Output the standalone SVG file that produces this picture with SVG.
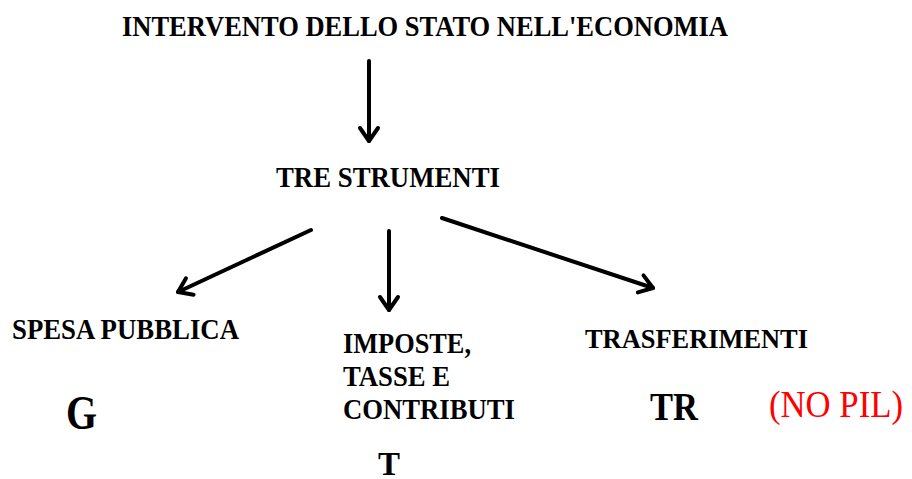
<svg xmlns="http://www.w3.org/2000/svg" width="912" height="479" viewBox="0 0 912 479">
<style>
.t{font-family:"Liberation Serif","DejaVu Serif",serif;font-weight:bold;fill:#000}
.r{font-family:"Liberation Serif","DejaVu Serif",serif;fill:#ff0000}
.c{stroke:#000;stroke-width:4;fill:none;stroke-linecap:round}
</style>
<defs>
<marker id="ah" viewBox="-20 -12 24 24" refX="0" refY="0" markerWidth="24" markerHeight="24" markerUnits="userSpaceOnUse" orient="auto">
<path d="M -13 -9 L 0 0 L -13 9" fill="none" stroke="#000" stroke-width="4" stroke-linecap="round" stroke-linejoin="round"/>
</marker>
</defs>
<rect width="912" height="479" fill="#fff"/>
<g id="title"><text class="t" x="122" y="36" font-size="30" textLength="606" lengthAdjust="spacingAndGlyphs">INTERVENTO DELLO STATO NELL'ECONOMIA</text></g>
<g id="tre"><text class="t" x="276" y="187" font-size="29" textLength="224" lengthAdjust="spacingAndGlyphs">TRE STRUMENTI</text></g>
<g id="spesa">
<text class="t" x="12" y="339" font-size="29" textLength="227" lengthAdjust="spacingAndGlyphs">SPESA PUBBLICA</text>
<text class="t" x="66" y="429" font-size="48" textLength="31" lengthAdjust="spacingAndGlyphs">G</text>
</g>
<g id="imposte">
<text class="t" x="343" y="353" font-size="29" textLength="128" lengthAdjust="spacingAndGlyphs">IMPOSTE,</text>
<text class="t" x="343" y="386" font-size="29" textLength="107" lengthAdjust="spacingAndGlyphs">TASSE E</text>
<text class="t" x="343" y="419" font-size="29" textLength="172" lengthAdjust="spacingAndGlyphs">CONTRIBUTI</text>
<text class="t" x="378" y="475" font-size="34" textLength="22" lengthAdjust="spacingAndGlyphs">T</text>
</g>
<g id="trasferimenti">
<text class="t" x="585" y="348" font-size="28" textLength="223" lengthAdjust="spacingAndGlyphs">TRASFERIMENTI</text>
<text class="t" x="650" y="420" font-size="40" textLength="48" lengthAdjust="spacingAndGlyphs">TR</text>
<text class="r" x="769" y="417" font-size="37" textLength="134" lengthAdjust="spacingAndGlyphs">(NO PIL)</text>
</g>
<g id="connectors">
<line class="c" x1="369" y1="61" x2="369" y2="141" marker-end="url(#ah)"/>
<line class="c" x1="311" y1="230" x2="178" y2="292" marker-end="url(#ah)"/>
<line class="c" x1="389" y1="231" x2="389" y2="310" marker-end="url(#ah)"/>
<line class="c" x1="442" y1="218" x2="653" y2="288" marker-end="url(#ah)"/>
</g>
</svg>
